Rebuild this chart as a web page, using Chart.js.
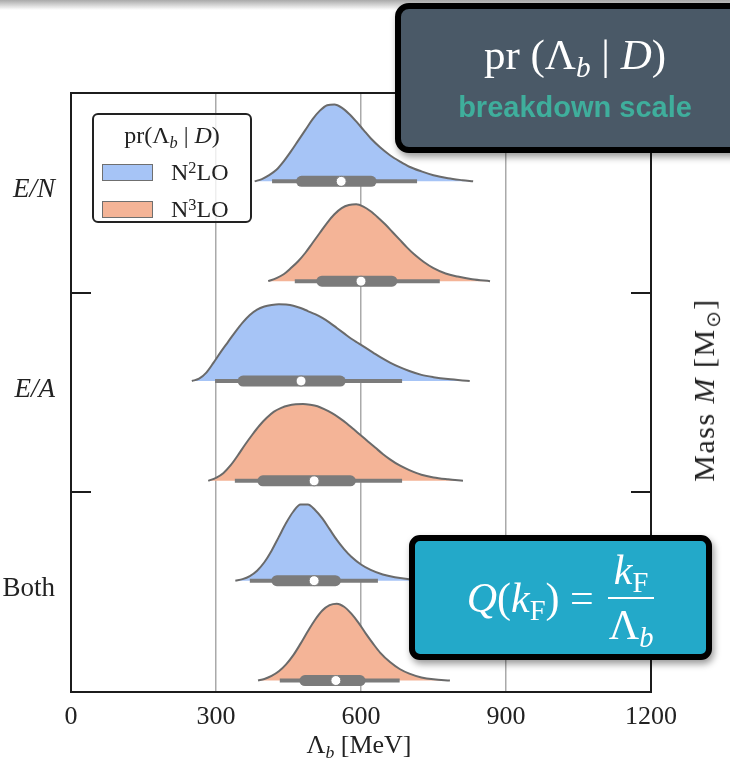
<!DOCTYPE html>
<html>
<head>
<meta charset="utf-8">
<script src="https://cdn.jsdelivr.net/npm/chart.js@4.4.1/dist/chart.umd.min.js"></script>
<style>
  html, body { margin: 0; padding: 0; background: #fff; overflow: hidden; }
  #wrap { position: relative; width: 730px; height: 763px; overflow: hidden; }
  #chart { position: absolute; left: 0; top: 0; }
  sub { font-size: 0.68em; vertical-align: -0.28em; line-height: 0; }
  sup { font-size: 0.68em; vertical-align: 0.45em; line-height: 0; }
  .topfade { position: absolute; left: 0; top: 0; width: 730px; height: 10px;
    background: linear-gradient(#a9a9a9, rgba(255,255,255,0)); }
  .legend { position: absolute; left: 92px; top: 113px; width: 160px; height: 110px;
    box-sizing: border-box; border: 2px solid #222; border-radius: 6px;
    background: rgba(255,255,255,0.8); font-family: "Liberation Serif", serif; font-size: 24px; color: #222; }
  .legend .ttl { position: absolute; left: 0; top: 8px; width: 100%; text-align: center; line-height: 24px; }
  .legend .sw { position: absolute; left: 8px; width: 51px; height: 17px; box-sizing: border-box; border: 1px solid #6f6f6f; }
  .legend .lb { position: absolute; left: 77px; line-height: 24px; }
  .xtitle { position: absolute; left: 359px; top: 731px; transform: translateX(-50%);
    font-family: "Liberation Serif", serif; font-size: 26px; color: #222; white-space: nowrap; line-height: 28px; }
  .ytitle { position: absolute; left: 704px; top: 390px; transform: translate(-50%, -50%) rotate(-90deg);
    font-family: "Liberation Serif", serif; font-size: 30px; letter-spacing: 1.5px; color: #222; white-space: nowrap; }
  .dark { position: absolute; left: 395px; top: 3px; width: 360px; height: 150px; box-sizing: border-box;
    border: 6px solid #000; border-radius: 14px; background: #4a5967; box-shadow: 2px 4px 7px rgba(0,0,0,0.4); }
  .dark .l1 { position: absolute; left: 0; top: 22px; width: 100%; text-align: center; line-height: 48px;
    font-family: "Liberation Serif", serif; font-size: 43px; color: #fff; }
  .dark .l2 { position: absolute; left: 0; top: 81px; width: 100%; text-align: center; line-height: 34px;
    font-family: "Liberation Sans", Arial, sans-serif; font-weight: bold; font-size: 29px; color: #3fae9c; }
  .teal { position: absolute; left: 409px; top: 535px; width: 303px; height: 125px; box-sizing: border-box;
    border: 6px solid #000; border-radius: 11px; background: #23a9c9; box-shadow: 2px 4px 7px rgba(0,0,0,0.4);
    display: flex; align-items: center; justify-content: center;
    font-family: "Liberation Serif", serif; font-size: 42px; color: #fff; }
  .frac { display: inline-flex; flex-direction: column; align-items: center; margin-left: 14px; line-height: 48px; }
  .frac .num { border-bottom: 2px solid #fff; padding: 0 6px 3px; }
  .frac .den { padding-top: 2px; }
</style>
</head>
<body>
<div id="wrap">
  <canvas id="chart" width="730" height="763"></canvas>
  <div class="topfade"></div>
  <div class="legend" id="legend"></div>
  <div class="xtitle">Λ<sub><i>b</i></sub> [MeV]</div>
  <div class="ytitle">Mass <i>M</i> [M<sub>⊙</sub>]</div>
  <div class="dark">
    <div class="l1">pr (Λ<sub><i>b</i></sub> | <i>D</i>)</div>
    <div class="l2">breakdown scale</div>
  </div>
  <div class="teal">
    <span><i>Q</i>(<i>k</i><sub>F</sub>) =</span>
    <span class="frac"><span class="num"><i>k</i><sub>F</sub></span><span class="den">Λ<sub><i>b</i></sub></span></span>
  </div>
</div>
<script>
// rows and series
const rowLabels = ['E/N', 'E/A', 'Both'];
const seriesNames = ['N²LO', 'N³LO'];
const seriesColors = ['#a6c4f6', '#f4b497'];
const lambdaTicks = [0, 300, 600, 900, 1200];

// half-violin outlines: Λb [MeV] and relative density
const enN2loX = [380, 395, 410, 425, 440, 455, 470, 485, 500, 515, 530, 545, 560, 575, 590, 605, 620, 640, 660, 680, 700, 725, 750, 780, 810, 832];
const enN2loH = [0, 0.03, 0.08, 0.15, 0.26, 0.39, 0.53, 0.67, 0.81, 0.92, 0.99, 1.0, 0.96, 0.88, 0.78, 0.67, 0.56, 0.44, 0.34, 0.26, 0.19, 0.13, 0.08, 0.04, 0.015, 0];
const enN3loX = [408, 425, 440, 455, 470, 485, 500, 515, 530, 545, 560, 575, 590, 605, 620, 635, 650, 665, 680, 695, 710, 730, 750, 775, 800, 830, 867];
const enN3loH = [0, 0.04, 0.09, 0.17, 0.26, 0.37, 0.50, 0.63, 0.76, 0.87, 0.95, 0.99, 1.0, 0.97, 0.91, 0.83, 0.74, 0.64, 0.54, 0.44, 0.35, 0.25, 0.17, 0.10, 0.06, 0.025, 0];
const eaN2loX = [250, 265, 280, 295, 310, 325, 340, 355, 370, 385, 400, 415, 430, 445, 460, 475, 490, 505, 520, 535, 550, 565, 580, 595, 610, 625, 640, 660, 680, 700, 725, 750, 780, 825];
const eaN2loH = [0, 0.03, 0.11, 0.24, 0.38, 0.51, 0.64, 0.76, 0.86, 0.93, 0.97, 0.99, 1.0, 0.995, 0.98, 0.95, 0.91, 0.87, 0.82, 0.76, 0.69, 0.62, 0.55, 0.49, 0.43, 0.37, 0.31, 0.24, 0.18, 0.13, 0.08, 0.05, 0.025, 0];
const eaN3loX = [284, 300, 315, 330, 345, 360, 375, 390, 405, 420, 435, 450, 465, 480, 495, 510, 525, 540, 555, 570, 585, 600, 615, 630, 645, 660, 680, 700, 725, 750, 780, 811];
const eaN3loH = [0, 0.04, 0.10, 0.2, 0.33, 0.47, 0.6, 0.72, 0.82, 0.9, 0.95, 0.98, 0.995, 1.0, 0.99, 0.97, 0.93, 0.88, 0.82, 0.75, 0.67, 0.59, 0.51, 0.43, 0.35, 0.28, 0.2, 0.14, 0.08, 0.045, 0.02, 0];
const bothN2loX = [340, 355, 370, 385, 400, 415, 430, 445, 460, 475, 490, 505, 520, 535, 550, 565, 580, 600, 620, 645, 670, 700, 740, 800];
const bothN2loH = [0, 0.02, 0.06, 0.13, 0.24, 0.39, 0.57, 0.75, 0.9, 0.99, 0.99, 0.92, 0.81, 0.67, 0.53, 0.41, 0.31, 0.21, 0.14, 0.08, 0.045, 0.02, 0.007, 0];
const bothN3loX = [387, 400, 415, 430, 445, 460, 475, 490, 505, 520, 535, 550, 565, 580, 595, 610, 625, 640, 660, 680, 700, 725, 750, 784];
const bothN3loH = [0, 0.02, 0.06, 0.12, 0.21, 0.33, 0.48, 0.64, 0.79, 0.91, 0.98, 1.0, 0.96, 0.87, 0.75, 0.61, 0.48, 0.36, 0.24, 0.15, 0.09, 0.04, 0.015, 0];

const violinX = [enN2loX, enN3loX, eaN2loX, eaN3loX, bothN2loX, bothN3loX];
const violinH = [enN2loH, enN3loH, eaN2loH, eaN3loH, bothN2loH, bothN3loH];

// box summaries per violin (MeV)
const whiskerLo = [416, 463, 298, 339, 370, 432];
const whiskerHi = [716, 763, 685, 685, 635, 680];
const boxLo = [477, 519, 356, 397, 426, 484];
const boxHi = [621, 664, 557, 578, 547, 598];
const medians = [559, 600, 476, 503, 503, 548];

const rowBreaks = [2, 4];
const base = i => i + 0.885;
const PEAK = 0.77;
const GREY = '#7b7b7b';

const datasets = [];
violinX.forEach((xs, i) => {
  datasets.push({
    label: rowLabels[Math.floor(i / 2)] + ' ' + seriesNames[i % 2],
    data: xs.map((x, j) => ({ x: x, y: base(i) - violinH[i][j] * PEAK })),
    borderColor: '#6a6a6a',
    borderWidth: 2,
    backgroundColor: seriesColors[i % 2],
    fill: { value: base(i) },
    pointRadius: 0,
    cubicInterpolationMode: 'monotone',
    order: 3
  });
  datasets.push({
    label: 'whisker',
    data: [{ x: whiskerLo[i], y: base(i) }, { x: whiskerHi[i], y: base(i) }],
    borderColor: GREY, borderWidth: 4, pointRadius: 0, fill: false, order: 2
  });
  datasets.push({
    label: 'box',
    data: [{ x: boxLo[i], y: base(i) }, { x: boxHi[i], y: base(i) }],
    borderColor: GREY, borderWidth: 11, borderCapStyle: 'round', pointRadius: 0, fill: false, order: 1
  });
});
datasets.push({
  label: 'median',
  data: medians.map((m, i) => ({ x: m, y: base(i) })),
  showLine: false,
  pointRadius: 5,
  pointBackgroundColor: '#fff',
  pointBorderColor: GREY,
  pointBorderWidth: 1,
  order: 0
});

// legend built from the series arrays
const legend = document.getElementById('legend');
legend.innerHTML = '<div class="ttl">pr(Λ<sub><i>b</i></sub> | <i>D</i>)</div>';
seriesNames.forEach((name, k) => {
  const top = 49 + k * 37;
  legend.innerHTML += '<div class="sw" style="top:' + top + 'px;background:' + seriesColors[k] + '"></div>' +
    '<div class="lb" style="top:' + (top - 4) + 'px">' + name.replace('²', '<sup>2</sup>').replace('³', '<sup>3</sup>') + '</div>';
});

const framePlugin = {
  id: 'frame',
  afterDatasetsDraw(chart) {
    const { ctx, chartArea: a, scales: { y } } = chart;
    ctx.save();
    ctx.strokeStyle = '#1c1c1c';
    ctx.lineWidth = 2;
    ctx.strokeRect(a.left, a.top, a.right - a.left, a.bottom - a.top);
    rowBreaks.forEach(v => {
      const py = Math.round(y.getPixelForValue(v));
      ctx.beginPath();
      ctx.moveTo(a.left, py); ctx.lineTo(a.left + 20, py);
      ctx.moveTo(a.right - 20, py); ctx.lineTo(a.right, py);
      ctx.stroke();
    });
    ctx.restore();
  }
};

new Chart(document.getElementById('chart'), {
  type: 'line',
  data: { datasets: datasets },
  options: {
    responsive: false,
    animation: false,
    devicePixelRatio: 1,
    layout: { padding: { left: 0, top: 93, right: 79, bottom: 0 } },
    plugins: { legend: { display: false }, tooltip: { enabled: false } },
    scales: {
      x: {
        type: 'linear', min: 0, max: 1200,
        afterBuildTicks: s => { s.ticks = lambdaTicks.map(v => ({ value: v })); },
        afterFit: s => { s.height = 71; },
        grid: {
          color: c => (c.tick && c.tick.value > 0 && c.tick.value < 1200) ? '#aaaaaa' : 'rgba(0,0,0,0)',
          lineWidth: 1.5,
          drawTicks: false
        },
        border: { display: false },
        ticks: {
          padding: 10, color: '#222',
          callback: v => String(v),
          font: { family: 'Liberation Serif', size: 26 }
        }
      },
      y: {
        type: 'linear', min: 0, max: 6, reverse: true,
        afterBuildTicks: s => { s.ticks = [1, 2, 3, 4, 5].map(v => ({ value: v })); },
        afterFit: s => { s.width = 71; },
        grid: { display: false },
        border: { display: false },
        ticks: {
          padding: 8,
          labelOffset: -3,
          color: '#222',
          callback: v => (v % 2 === 1 ? rowLabels[(v - 1) / 2] : ''),
          font: c => ({ family: 'Liberation Serif', size: 27, style: (c.tick && c.tick.value < 4) ? 'italic' : 'normal' })
        }
      }
    }
  },
  plugins: [framePlugin]
});
</script>
</body>
</html>
